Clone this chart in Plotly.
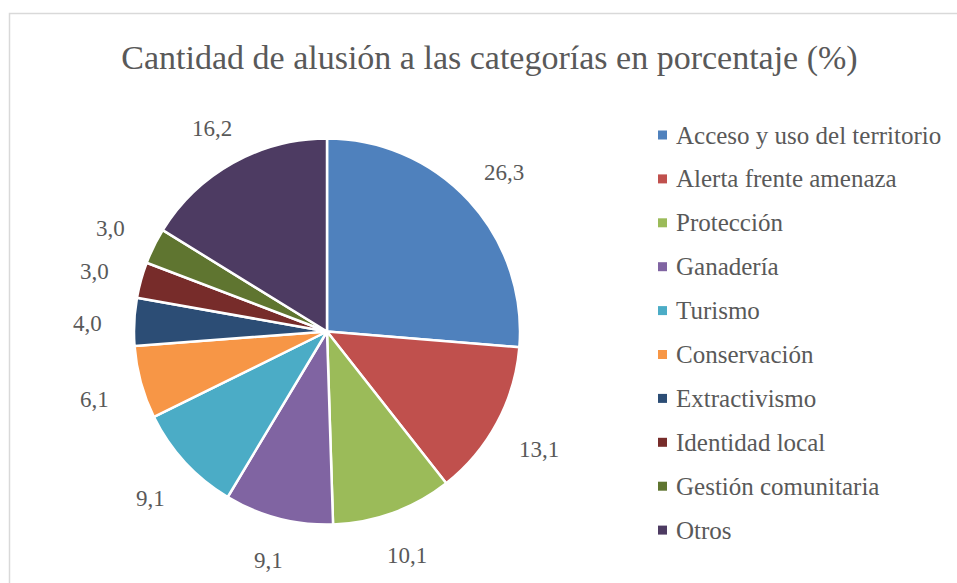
import math
import plotly.graph_objects as go

# ---------------- data ----------------
categories = [
    "Acceso y uso del territorio",
    "Alerta frente amenaza",
    "Protección",
    "Ganadería",
    "Turismo",
    "Conservación",
    "Extractivismo",
    "Identidad local",
    "Gestión comunitaria",
    "Otros",
]
values = [26.3, 13.1, 10.1, 9.1, 9.1, 6.1, 4.0, 3.0, 3.0, 16.2]
colors = ["#4F81BD", "#C0504D", "#9BBB59", "#8064A2", "#4BACC6",
          "#F79646", "#2C4D75", "#772C2A", "#5F7530", "#4D3B62"]
title_text = "Cantidad de alusión a las categorías en porcentaje (%)"

# ---------------- layout geometry (pixels) ----------------
W, H = 957, 583
FONT = "Liberation Serif"
TXT = "#595959"

pie_left, pie_right = 134, 520
pie_top, pie_bottom = 138, 525
cx = (pie_left + pie_right) / 2
cy = (pie_top + pie_bottom) / 2
R = min(pie_right - pie_left, pie_bottom - pie_top) / 2


def px(x):
    return x / W


def py(y):
    return 1 - y / H


fig = go.Figure()
fig.add_trace(go.Pie(
    labels=categories,
    values=values,
    sort=False,
    direction="clockwise",
    rotation=0,
    marker=dict(colors=colors, line=dict(color="white", width=2.5)),
    textinfo="none",
    hoverinfo="label+value",
    showlegend=False,
    domain=dict(x=[px(pie_left), px(pie_right)], y=[py(pie_bottom), py(pie_top)]),
))

annotations = []
# data labels, positioned outside each slice at its mid-angle
total = sum(values)
cum = 0.0
gap, half_w, half_h = 25, 21, 10
for v in values:
    mid = (cum + v / 2) / total * 2 * math.pi
    cum += v
    ux, uy = math.sin(mid), -math.cos(mid)
    dist = R + gap + abs(ux) * half_w + abs(uy) * half_h
    lx, ly = cx + ux * dist, cy + uy * dist + 4
    annotations.append(dict(
        x=px(lx), y=py(ly), xref="paper", yref="paper",
        text=f"{v:.1f}".replace(".", ","), showarrow=False,
        xanchor="center", yanchor="middle",
        font=dict(family=FONT, size=23, color=TXT),
    ))

# legend (manual, to reproduce the wide row spacing)
shapes = []
leg_y0, leg_step = 135, 43.9
for i, (cat, col) in enumerate(zip(categories, colors)):
    yy = leg_y0 + i * leg_step
    shapes.append(dict(type="rect", xref="paper", yref="paper",
                       x0=px(658), x1=px(667), y0=py(yy + 4.5), y1=py(yy - 4.5),
                       fillcolor=col, line=dict(width=0)))
    annotations.append(dict(
        x=px(674), y=py(yy), xref="paper", yref="paper",
        text=cat, showarrow=False, xanchor="left", yanchor="middle",
        font=dict(family=FONT, size=25, color=TXT),
    ))

# chart border
shapes.append(dict(type="rect", xref="paper", yref="paper",
                   x0=px(9.5), x1=1.05, y0=-0.05, y1=py(13.5),
                   line=dict(color="#D9D9D9", width=1.5), fillcolor="rgba(0,0,0,0)"))

fig.update_layout(
    width=W, height=H,
    margin=dict(l=0, r=0, t=0, b=0),
    paper_bgcolor="white",
    plot_bgcolor="white",
    title=dict(text=title_text, x=px(489.5), y=py(57), xanchor="center", yanchor="middle",
               font=dict(family=FONT, size=34, color=TXT)),
    annotations=annotations,
    shapes=shapes,
    showlegend=False,
)

fig.write_html("out.html",
               config={"displayModeBar": False},
               post_script="document.body.style.margin='0';document.body.style.overflow='hidden';")
